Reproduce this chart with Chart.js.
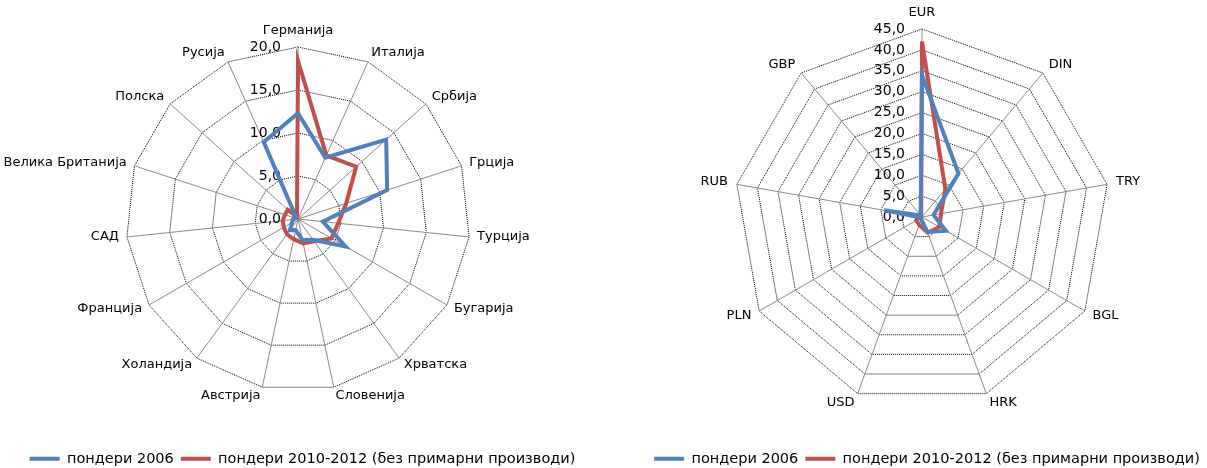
<!DOCTYPE html>
<html lang="sr">
<head>
<meta charset="UTF-8">
<title>Пондери</title>
<style>
  html, body{ margin:0; background:#fff; overflow:hidden; }
  .okvir{ position:absolute; top:0; height:476px; }
  #levo{ left:0; width:605px; }
  #desno{ left:640px; width:574px; }
</style>
</head>
<body>
<div class="okvir" id="levo"><canvas id="grafik1"></canvas></div>
<div class="okvir" id="desno"><canvas id="grafik2"></canvas></div>

<script src="https://cdn.jsdelivr.net/npm/chart.js"></script>
<script>
// podaci - zemlje
const zemlje = ["Германија", "Италија", "Србија", "Грција", "Турција", "Бугарија", "Хрватска", "Словенија",
                "Австрија", "Холандија", "Франција", "САД", "Велика Британија", "Полска", "Русија"];
const zemlje2006 = [12.3, 7.8, 13.8, 10.9, 2.9, 6.4, 3.0, 2.5, 1.3, 1.6, 0.8, 0.6, 0.5, 0.3, 9.8];
const zemlje2010 = [18.4, 8.1, 9.1, 5.9, 4.7, 4.5, 3.2, 2.9, 2.4, 2.2, 1.9, 1.8, 1.6, 1.6, 0.3];
const zemljeTicks = [0, 5, 10, 15, 20];

// podaci - valute
const valute = ["EUR", "DIN", "TRY", "BGL", "HRK", "USD", "PLN", "RUB", "GBP"];
const valute2006 = [34.0, 13.6, 2.8, 6.6, 3.8, 0.6, 0.3, 9.2, 0.5];
const valute2010 = [42.0, 8.7, 4.6, 4.8, 4.0, 2.0, 1.6, 0.7, 0.3];
const valuteTicks = [0, 5, 10, 15, 20, 25, 30, 35, 40, 45];

const serije = ["пондери 2006", "пондери 2010-2012 (без примарни производи)"];
const FONT = "'DejaVu Sans', Verdana, sans-serif";

// centar i poluprecnik radara zadajemo rucno (da bude kao u originalu)
const RS = Chart.registry.getScale('radialLinear');
const origCenter = RS.prototype.setCenterPoint;
RS.prototype.setCenterPoint = function (l, r, t, b) {
  if (this.$fiks) {
    this.xCenter = this.$fiks.x;
    this.yCenter = this.$fiks.y;
    this.drawingArea = this.$fiks.r;
    return;
  }
  origCenter.call(this, l, r, t, b);
};
// brojevi na osi poravnati desno, malo levo od ose
const origLabels = RS.prototype.drawLabels;
RS.prototype.drawLabels = function () {
  const ctx = this.ctx;
  ctx.save();
  ctx.translate(-17, 0);
  ctx.textAlign = 'right';
  Object.defineProperty(ctx, 'textAlign', { configurable: true, get() { return 'right'; }, set() {} });
  origLabels.apply(this, arguments);
  delete ctx.textAlign;
  ctx.restore();
};

// nazivi oko radara kao u Excelu
function rasporediNazive(s, gx, b) {
  const items = s._pointLabelItems || [];
  items.forEach((it, i) => {
    const w = it.right - it.left, h = it.bottom - it.top;
    const kut = s.getIndexAngle(i);
    const p = s.getPointPosition(i, s.drawingArea);
    const sin = Math.sin(kut), cos = Math.cos(kut);
    const cy = i === 0 ? p.y - 16 : p.y - 0.8 - b * cos;
    let x, left, align;
    if (Math.abs(sin) < 0.01) { x = p.x; left = x - w / 2; align = 'center'; }
    else if (sin > 0) { x = p.x + gx * sin; left = x; align = 'left'; }
    else { x = p.x + gx * sin; left = x - w; align = 'right'; }
    it.x = x; it.y = cy - h / 2; it.top = cy - h / 2; it.bottom = cy + h / 2;
    it.left = left; it.right = left + w; it.textAlign = align;
  });
}

function napraviRadar(id, kategorije, v2006, v2010, tickovi, fiks) {
  return new Chart(document.getElementById(id), {
    type: 'radar',
    data: {
      labels: kategorije,
      datasets: [
        { label: serije[0], data: v2006, borderColor: '#4F81BD', backgroundColor: '#4F81BD', borderWidth: 4, pointRadius: 0, fill: false },
        { label: serije[1], data: v2010, borderColor: '#C0504D', backgroundColor: '#C0504D', borderWidth: 4, pointRadius: 0, fill: false }
      ]
    },
    options: {
      responsive: true,
      maintainAspectRatio: false,
      animation: false,
      plugins: {
        tooltip: { enabled: false },
        legend: {
          position: 'bottom',
          labels: {
            usePointStyle: true,
            pointStyle: 'line',
            pointStyleWidth: 30,
            boxHeight: 14,
            color: '#000',
            padding: 7,
            font: { family: FONT, size: 14.5 }
          }
        }
      },
      scales: {
        r: {
          min: -0.0001,
          max: tickovi[tickovi.length - 1],
          afterSetDimensions: s => { s.$fiks = fiks; },
          afterBuildTicks: s => { s.ticks = tickovi.map(v => ({ value: v })); },
          afterFit: s => rasporediNazive(s, fiks.gx, fiks.b),
          ticks: {
            color: '#000',
            showLabelBackdrop: false,
            font: { family: FONT, size: 14 },
            callback: v => Math.abs(v).toFixed(1).replace('.', ',')
          },
          grid: { color: '#000', lineWidth: 1 },
          border: { dash: [1, 1] },
          angleLines: { color: '#8a8a8a', lineWidth: 1 },
          pointLabels: { color: '#000', padding: 0, font: { family: FONT, size: 13 } }
        }
      }
    }
  });
}

let grafik1 = napraviRadar('grafik1', zemlje, zemlje2006, zemlje2010, zemljeTicks, { x: 298, y: 219, r: 172, gx: 8, b: 9 });
let grafik2 = napraviRadar('grafik2', valute, valute2006, valute2010, valuteTicks, { x: 282, y: 217, r: 188, gx: 9, b: 10 });
</script>
</body>
</html>
